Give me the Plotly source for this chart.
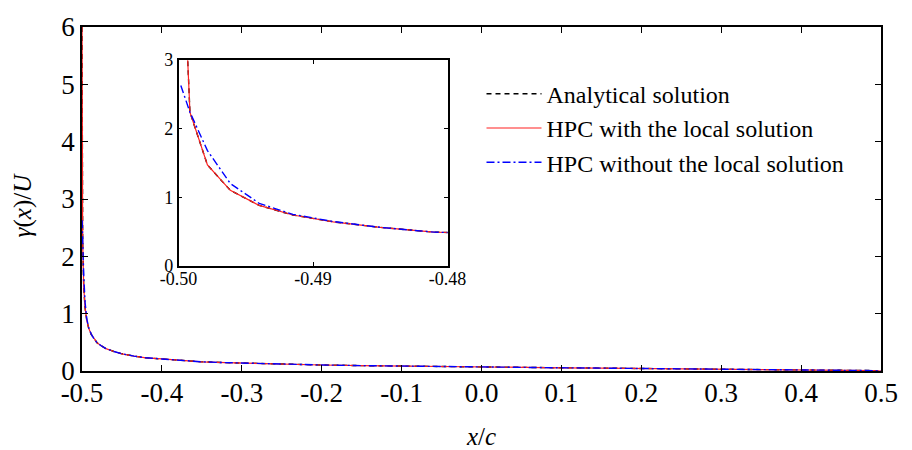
import plotly.graph_objects as go

# ---- data ----
x_analytical = [-0.49998, -0.49915, -0.49785, -0.49615, -0.494, -0.4915, -0.4885, -0.485, -0.481,
                -0.476, -0.47, -0.46, -0.45, -0.435, -0.42, -0.40, -0.375, -0.35, -0.32, -0.28,
                -0.24, -0.20, -0.15, -0.10, -0.05, 0.00, 0.05, 0.10, 0.15, 0.20, 0.25, 0.30,
                0.35, 0.40, 0.44, 0.47, 0.49, 0.50]
y_analytical = [6.0, 2.24, 1.47, 1.10, 0.88, 0.74, 0.64, 0.56, 0.49,
                0.44, 0.39, 0.34, 0.30, 0.26, 0.23, 0.21, 0.18, 0.16, 0.146, 0.129,
                0.116, 0.105, 0.094, 0.084, 0.076, 0.069, 0.062, 0.056, 0.050, 0.045, 0.040, 0.034,
                0.029, 0.023, 0.017, 0.012, 0.007, 0.0]

x_local = [-0.49998, -0.49915, -0.49785, -0.49615, -0.494, -0.4915, -0.4885, -0.485, -0.481,
           -0.476, -0.47, -0.46, -0.45, -0.435, -0.42, -0.40, -0.375, -0.35, -0.32, -0.28,
           -0.24, -0.20, -0.15, -0.10, -0.05, 0.00, 0.05, 0.10, 0.15, 0.20, 0.25, 0.30,
           0.35, 0.40, 0.44, 0.47, 0.49, 0.50]
y_local = [6.0, 2.24, 1.47, 1.10, 0.88, 0.74, 0.64, 0.56, 0.49,
           0.44, 0.39, 0.34, 0.30, 0.26, 0.23, 0.21, 0.18, 0.16, 0.146, 0.129,
           0.116, 0.105, 0.094, 0.084, 0.076, 0.069, 0.062, 0.056, 0.050, 0.045, 0.040, 0.034,
           0.029, 0.023, 0.017, 0.012, 0.007, 0.0]

x_nolocal = [-0.49983, -0.49915, -0.49785, -0.49615, -0.494, -0.4915, -0.4885, -0.485, -0.481,
             -0.476, -0.47, -0.46, -0.45, -0.435, -0.42, -0.40, -0.375, -0.35, -0.32, -0.28,
             -0.24, -0.20, -0.15, -0.10, -0.05, 0.00, 0.05, 0.10, 0.15, 0.20, 0.25, 0.30,
             0.35, 0.40, 0.44, 0.47, 0.49, 0.50]
y_nolocal = [2.63, 2.24, 1.68, 1.20, 0.91, 0.75, 0.645, 0.56, 0.49,
             0.44, 0.39, 0.34, 0.30, 0.26, 0.23, 0.21, 0.18, 0.16, 0.146, 0.129,
             0.116, 0.105, 0.094, 0.084, 0.076, 0.069, 0.062, 0.056, 0.050, 0.045, 0.040, 0.034,
             0.029, 0.023, 0.017, 0.012, 0.007, 0.0]

series_names = ["Analytical solution", "HPC with the local solution", "HPC without the local solution"]

main_xtick_vals = [-0.5, -0.4, -0.3, -0.2, -0.1, 0.0, 0.1, 0.2, 0.3, 0.4, 0.5]
main_xtick_text = ["-0.5", "-0.4", "-0.3", "-0.2", "-0.1", "0.0", "0.1", "0.2", "0.3", "0.4", "0.5"]
main_ytick_vals = [0, 1, 2, 3, 4, 5, 6]
main_ytick_text = ["0", "1", "2", "3", "4", "5", "6"]
inset_xtick_vals = [-0.50, -0.49, -0.48]
inset_xtick_text = ["-0.50", "-0.49", "-0.48"]
inset_ytick_vals = [0, 1, 2, 3]
inset_ytick_text = ["0", "1", "2", "3"]

FONT = "'Liberation Serif', 'Times New Roman', Times, 'DejaVu Serif', serif"

styles = [
    dict(color="black", width=1.4, dash="5px,4px"),
    dict(color="#ff2020", width=1.2, dash="solid"),
    dict(color="#0000ff", width=1.4, dash="8px,3px,2px,3px"),
]
data = [(x_analytical, y_analytical), (x_local, y_local), (x_nolocal, y_nolocal)]

fig = go.Figure()
for (xs, ys), name, st in zip(data, series_names, styles):
    fig.add_trace(go.Scatter(x=xs, y=ys, mode="lines", name=name, line=st,
                             xaxis="x", yaxis="y", showlegend=True))
for (xs, ys), name, st in zip(data, series_names, styles):
    fig.add_trace(go.Scatter(x=xs, y=ys, mode="lines", name=name, line=st,
                             xaxis="x2", yaxis="y2", showlegend=False))

axis_common = dict(showline=True, linecolor="black", linewidth=1.5, mirror="allticks",
                   ticks="inside", tickcolor="black", tickwidth=1.2, showgrid=False,
                   zeroline=False)

fig.update_layout(
    width=912, height=450,
    margin=dict(l=82, r=19, t=18, b=79),
    paper_bgcolor="white", plot_bgcolor="white",
    font=dict(family=FONT, color="black"),
    xaxis=dict(domain=[0, 1], range=[-0.5, 0.5], tickvals=main_xtick_vals,
               ticktext=main_xtick_text, ticklen=6, tickfont=dict(size=27, family=FONT),
               ticklabelstandoff=-3, anchor="y", **axis_common),
    yaxis=dict(domain=[0, 1], range=[0, 6], tickvals=main_ytick_vals,
               ticktext=main_ytick_text, ticklen=6, tickfont=dict(size=27, family=FONT),
               anchor="x", **axis_common),
    xaxis2=dict(domain=[0.1208, 0.4575], range=[-0.5, -0.48], tickvals=inset_xtick_vals,
                ticktext=inset_xtick_text, ticklen=4, tickfont=dict(size=18, family=FONT),
                ticklabelstandoff=-4, anchor="y2", **axis_common),
    yaxis2=dict(domain=[0.306, 0.9037], range=[0, 3], tickvals=inset_ytick_vals,
                ticktext=inset_ytick_text, ticklen=4, tickfont=dict(size=18, family=FONT),
                anchor="x2", **axis_common),
    legend=dict(x=0.5, y=0.87, xanchor="left", yanchor="top",
                font=dict(size=24, family=FONT), bgcolor="rgba(0,0,0,0)",
                itemwidth=55, tracegroupgap=0),
    annotations=[
        dict(text="<i>x</i>/<i>c</i>", x=0.4994, y=-0.19, xref="paper", yref="paper",
             showarrow=False, font=dict(size=25, family=FONT), xanchor="center", yanchor="middle"),
        dict(text="<i>γ</i>(<i>x</i>)/<i>U</i>", x=-0.074, y=0.484, xref="paper", yref="paper",
             showarrow=False, textangle=-90, font=dict(size=25, family=FONT),
             xanchor="center", yanchor="middle"),
    ],
)

fig.write_html("out.html")
